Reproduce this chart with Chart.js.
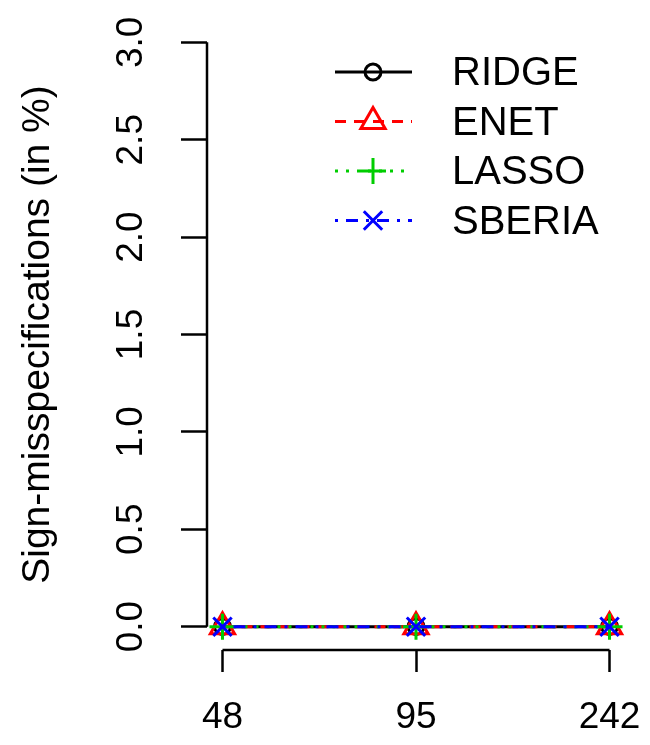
<!DOCTYPE html>
<html>
<head>
<meta charset="utf-8">
<script src="https://cdn.jsdelivr.net/npm/chart.js@4.4.1/dist/chart.umd.min.js"></script>
<style>
  html, body { margin: 0; padding: 0; background: #fff; }
</style>
</head>
<body>
<canvas id="sign_chart" width="650" height="745"></canvas>
<script>
// sample sizes on the x axis, one value per method and sample size
const sampleSizes = ['48', '95', '242'];
const yTicks = [0, 0.5, 1, 1.5, 2, 2.5, 3];
const seriesNames = ['RIDGE', 'ENET', 'LASSO', 'SBERIA'];
const ridge = [0, 0, 0];
const enet = [0, 0, 0];
const lasso = [0, 0, 0];
const sberia = [0, 0, 0];

const seriesValues = [ridge, enet, lasso, sberia];

// look of each method, same order as seriesNames
const looks = [
  { color: '#000000', dash: [], point: 'circle', radius: 8 },
  { color: '#FF0000', dash: [11, 8], point: 'triangle', radius: 14 },
  { color: '#00CD00', dash: [3, 8], point: 'cross', radius: 13 },
  { color: '#0000FF', dash: [3, 8, 12, 8], point: 'crossRot', radius: 13 }
];

const fontName = "'Liberation Sans', Arial, sans-serif";

const datasets = seriesNames.map((name, i) => ({
  label: name,
  data: seriesValues[i].map((v, j) => ({ x: j + 1, y: v })),
  borderColor: looks[i].color,
  backgroundColor: 'rgba(0,0,0,0)',
  borderWidth: 3,
  borderDash: looks[i].dash,
  tension: 0,
  pointStyle: looks[i].point,
  pointRadius: looks[i].radius,
  pointBorderWidth: 3,
  pointBorderColor: looks[i].color,
  pointBackgroundColor: 'rgba(0,0,0,0)',
  order: seriesNames.length - i,
  clip: false
}));

// R style axes: the axis line only runs from first to last tick
const rAxes = {
  id: 'rAxes',
  afterDraw(chart) {
    const { ctx, chartArea, scales } = chart;
    ctx.save();
    ctx.strokeStyle = '#000';
    ctx.lineWidth = 2.5;
    ctx.beginPath();
    ctx.moveTo(chartArea.left, scales.y.getPixelForValue(yTicks[0]));
    ctx.lineTo(chartArea.left, scales.y.getPixelForValue(yTicks[yTicks.length - 1]));
    ctx.moveTo(scales.x.getPixelForValue(1), chartArea.bottom);
    ctx.lineTo(scales.x.getPixelForValue(sampleSizes.length), chartArea.bottom);
    ctx.stroke();
    ctx.restore();
  }
};

// legend without box, line with the symbol in the middle
const rLegend = {
  id: 'rLegend',
  afterDraw(chart) {
    const ctx = chart.ctx;
    ctx.save();
    chart.data.datasets.forEach((ds, i) => {
      const y = 72 + i * 49.5;
      ctx.strokeStyle = ds.borderColor;
      ctx.lineWidth = ds.borderWidth;
      ctx.setLineDash(ds.borderDash);
      ctx.beginPath();
      ctx.moveTo(335, y);
      ctx.lineTo(412, y);
      ctx.stroke();
      ctx.setLineDash([]);
      ctx.fillStyle = 'rgba(0,0,0,0)';
      ctx.lineWidth = ds.pointBorderWidth;
      Chart.helpers.drawPoint(ctx, {
        pointStyle: ds.pointStyle,
        radius: ds.pointRadius,
        borderWidth: ds.pointBorderWidth
      }, 373, y);
      ctx.fillStyle = '#000';
      ctx.font = '40px ' + fontName;
      ctx.textBaseline = 'middle';
      ctx.textAlign = 'left';
      ctx.fillText(ds.label, 452, y + 2);
    });
    ctx.restore();
  }
};

new Chart(document.getElementById('sign_chart'), {
  type: 'line',
  data: { datasets: datasets },
  options: {
    responsive: false,
    animation: false,
    events: [],
    layout: { padding: { top: 19, right: 25, bottom: 0, left: 0 } },
    plugins: {
      legend: { display: false },
      tooltip: { enabled: false }
    },
    scales: {
      x: {
        type: 'linear',
        min: 0.92,
        max: 3.08,
        afterBuildTicks: (s) => { s.ticks = sampleSizes.map((_, i) => ({ value: i + 1 })); },
        afterFit: (s) => { s.height = 95; s.paddingLeft = 0; s.paddingRight = 0; },
        border: { display: false },
        grid: { drawOnChartArea: false, drawTicks: true, tickLength: 22, tickWidth: 2.5, tickColor: '#000' },
        ticks: {
          color: '#000',
          padding: 24,
          maxRotation: 0,
          font: { family: fontName, size: 37 },
          callback: (v) => sampleSizes[v - 1]
        }
      },
      y: {
        type: 'linear',
        min: -0.12,
        max: 3.12,
        afterBuildTicks: (s) => { s.ticks = yTicks.map(v => ({ value: v })); },
        afterFit: (s) => { s.width = 207; s.paddingTop = 0; s.paddingBottom = 0; },
        border: { display: false },
        grid: { drawOnChartArea: false, drawTicks: true, tickLength: 26, tickWidth: 2.5, tickColor: '#000' },
        ticks: {
          color: '#000',
          padding: 23,
          minRotation: 90,
          maxRotation: 90,
          crossAlign: 'center',
          font: { family: fontName, size: 37 },
          callback: (v) => v.toFixed(1)
        },
        title: {
          display: true,
          text: 'Sign-misspecifications (in %)',
          color: '#000',
          font: { family: fontName, size: 39 },
          padding: { top: 15, bottom: 0 }
        }
      }
    }
  },
  plugins: [rAxes, rLegend]
});
</script>
</body>
</html>
